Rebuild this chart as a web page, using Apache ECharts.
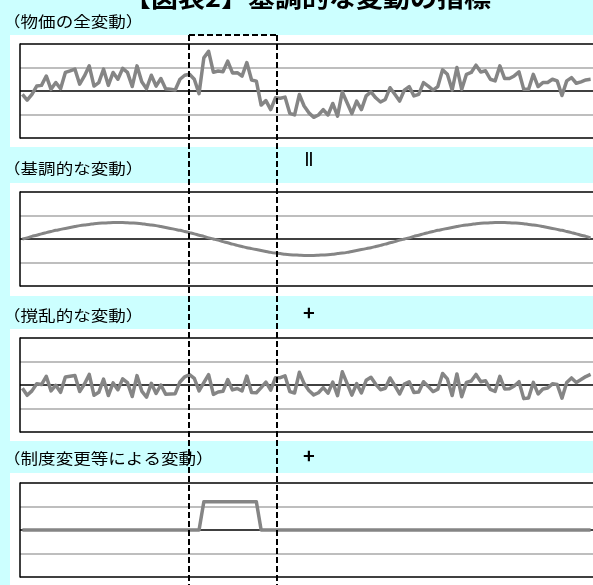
<!DOCTYPE html>
<html><head><meta charset="utf-8">
<script src="https://cdn.jsdelivr.net/npm/echarts@6/dist/echarts.min.js"></script>
<style>html,body{margin:0;padding:0;background:#CCFFFF;}#c{width:593px;height:585px;}</style>
</head><body><div id="c"></div>
<script>
const months = Array.from({length:120},(_, i)=>String(i+1));
const panelTitles = ['（物価の全変動）','（基調的な変動）','（撹乱的な変動）','（制度変更等による変動）'];
const chartTitle = '【図表2】基調的な変動の指標';
const totalChange = [-0.14,-0.39,-0.14,0.21,0.24,0.64,0.07,0.36,0.10,0.79,
0.86,0.93,0.29,0.64,1.07,0.21,0.36,0.93,0.24,0.79,
0.50,0.96,0.79,0.19,1.07,0.39,0.10,0.67,0.21,0.53,
0.10,0.07,0.04,0.50,0.67,0.71,0.50,-0.11,1.41,1.69,
0.80,0.85,0.82,1.27,0.77,0.78,0.63,1.21,0.47,0.42,
-0.60,-0.41,-0.79,-0.29,-0.31,-0.26,-0.95,-1.02,-0.15,-0.64,
-0.93,-1.12,-1.02,-0.79,-1.02,-0.53,-1.07,-0.04,-0.50,-0.96,
-0.43,-0.79,-0.21,-0.04,-0.29,-0.47,-0.36,0.14,-0.14,-0.43,
0.04,0.19,-0.21,-0.14,0.36,0.21,0.04,0.19,0.90,0.71,
0.04,1.00,0.07,0.71,0.79,1.10,0.81,0.86,0.50,0.43,
1.07,0.53,0.53,0.64,0.81,0.07,0.07,0.71,0.19,0.36,
0.36,0.50,0.43,-0.19,0.43,0.57,0.33,0.39,0.47,0.50];
const trendChange = [0,0.05,0.11,0.16,0.22,0.27,0.32,0.37,0.41,0.45,
0.49,0.53,0.57,0.60,0.62,0.65,0.67,0.68,0.69,0.70,
0.70,0.70,0.69,0.68,0.67,0.65,0.62,0.60,0.57,0.53,
0.49,0.45,0.41,0.37,0.32,0.27,0.22,0.16,0.11,0.05,
0,-0.05,-0.11,-0.16,-0.22,-0.27,-0.32,-0.37,-0.41,-0.45,
-0.49,-0.53,-0.57,-0.60,-0.62,-0.65,-0.67,-0.68,-0.69,-0.70,
-0.70,-0.70,-0.69,-0.68,-0.67,-0.65,-0.62,-0.60,-0.57,-0.53,
-0.49,-0.45,-0.41,-0.37,-0.32,-0.27,-0.22,-0.16,-0.11,-0.05,
0,0.05,0.11,0.16,0.22,0.27,0.32,0.37,0.41,0.45,
0.49,0.53,0.57,0.60,0.62,0.65,0.67,0.68,0.69,0.70,
0.70,0.70,0.69,0.68,0.67,0.65,0.62,0.60,0.57,0.53,
0.49,0.45,0.41,0.37,0.32,0.27,0.22,0.16,0.11,0.05];
const irregularChange = [-0.14,-0.44,-0.25,0.05,0.02,0.37,-0.25,-0.01,-0.31,0.34,
0.37,0.40,-0.28,0.04,0.45,-0.44,-0.31,0.25,-0.45,0.09,
-0.20,0.26,0.10,-0.49,0.40,-0.26,-0.52,0.07,-0.36,0,
-0.39,-0.38,-0.37,0.13,0.35,0.44,0.28,-0.25,0.10,0.44,
-0.40,-0.30,-0.27,0.23,-0.21,-0.15,-0.25,0.38,-0.32,-0.33,
-0.11,0.12,-0.22,0.31,0.31,0.39,-0.28,-0.34,0.54,0.06,
-0.23,-0.42,-0.33,-0.11,-0.35,0.12,-0.45,0.56,0.07,-0.43,
0.06,-0.34,0.20,0.33,0.03,-0.20,-0.14,0.30,-0.03,-0.38,
0.04,0.14,-0.32,-0.30,0.14,-0.06,-0.28,-0.18,0.49,0.26,
-0.45,0.47,-0.50,0.11,0.17,0.45,0.14,0.18,-0.19,-0.27,
0.37,-0.17,-0.16,-0.04,0.14,-0.58,-0.55,0.11,-0.38,-0.17,
-0.13,0.05,0.02,-0.56,0.11,0.30,0.11,0.23,0.36,0.45];
const institutionalChange = [0,0,0,0,0,0,0,0,0,0,
0,0,0,0,0,0,0,0,0,0,
0,0,0,0,0,0,0,0,0,0,
0,0,0,0,0,0,0,0,1.2,1.2,
1.2,1.2,1.2,1.2,1.2,1.2,1.2,1.2,1.2,1.2,
0,0,0,0,0,0,0,0,0,0,
0,0,0,0,0,0,0,0,0,0,
0,0,0,0,0,0,0,0,0,0,
0,0,0,0,0,0,0,0,0,0,
0,0,0,0,0,0,0,0,0,0,
0,0,0,0,0,0,0,0,0,0,
0,0,0,0,0,0,0,0,0,0];
const yTicks = [-2,-1,0,1,2];

const FONT = '"Noto Sans CJK JP", "Noto Sans", sans-serif';
const seriesData = [totalChange, trendChange, irregularChange, institutionalChange];
const gridTops = [44, 192, 338, 483];
const gridH = 94;
const chart = echarts.init(document.getElementById('c'));
const grids = [], xAxes = [], yAxes = [], series = [];
gridTops.forEach((t, k) => {
  grids.push({left: 20, right: -3, top: t, height: gridH, containLabel: false});
  xAxes.push({type:'category', gridIndex:k, data: months, boundaryGap: true,
    axisLine:{show:false}, axisTick:{show:false}, axisLabel:{show:false}, splitLine:{show:false}});
  yAxes.push({type:'value', gridIndex:k, min: yTicks[0], max: yTicks[yTicks.length-1], interval: 1,
    axisLine:{show:true, lineStyle:{color:'#000', width:1.5}}, axisTick:{show:false}, axisLabel:{show:false},
    splitLine:{show:true, lineStyle:{color:['#000','#a8a8a8','#000','#a8a8a8','#000'], width:1.5}}});
  series.push({type:'line', xAxisIndex:k, yAxisIndex:k, data: seriesData[k], symbol:'none',
    smooth: k===1 ? 0.3 : false, lineStyle:{color:'#858585', width: k===1 ? 3 : 3.5, join:'round'}, z:5});
});
const labelYs = [21, 168, 315, 458];
const graphic = [];
[[35,112],[183,113],[329,112],[473,120]].forEach(r => {
  graphic.push({type:'rect', shape:{x:10, y:r[0], width:600, height:r[1]}, style:{fill:'#fff'}, z:-10, silent:true});
});
panelTitles.forEach((t,k) => {
  graphic.push({type:'text', x:3, y:labelYs[k], scaleX:1.17, style:{text:t, font:'15px '+FONT, fill:'#000', textVerticalAlign:'middle'}, z:10});
});
graphic.push({type:'text', x:124, y:-3, scaleX:1.08, style:{text:chartTitle, font:'bold 25px '+FONT, fill:'#000', textVerticalAlign:'middle'}, z:10});
graphic.push({type:'text', x:309, y:159, style:{text:'||', font:'bold 14px "Liberation Sans", sans-serif', fill:'#000', textAlign:'center', textVerticalAlign:'middle'}, z:10});
graphic.push({type:'text', x:309, y:312, style:{text:'+', font:'bold 20px '+FONT, fill:'#000', textAlign:'center', textVerticalAlign:'middle'}, z:10});
graphic.push({type:'text', x:309, y:455, style:{text:'+', font:'bold 20px '+FONT, fill:'#000', textAlign:'center', textVerticalAlign:'middle'}, z:10});
const dash = {stroke:'#000', lineWidth:2, lineDash:[6,3]};
graphic.push({type:'line', shape:{x1:189, y1:35, x2:277, y2:35}, style:dash, z:100});
graphic.push({type:'line', shape:{x1:189, y1:35, x2:189, y2:585}, style:dash, z:100});
graphic.push({type:'line', shape:{x1:277, y1:35, x2:277, y2:585}, style:dash, z:100});

chart.setOption({
  backgroundColor:'#CCFFFF',
  animation:false,
  grid: grids, xAxis: xAxes, yAxis: yAxes, series: series,
  graphic: {elements: graphic}
});
</script></body></html>
